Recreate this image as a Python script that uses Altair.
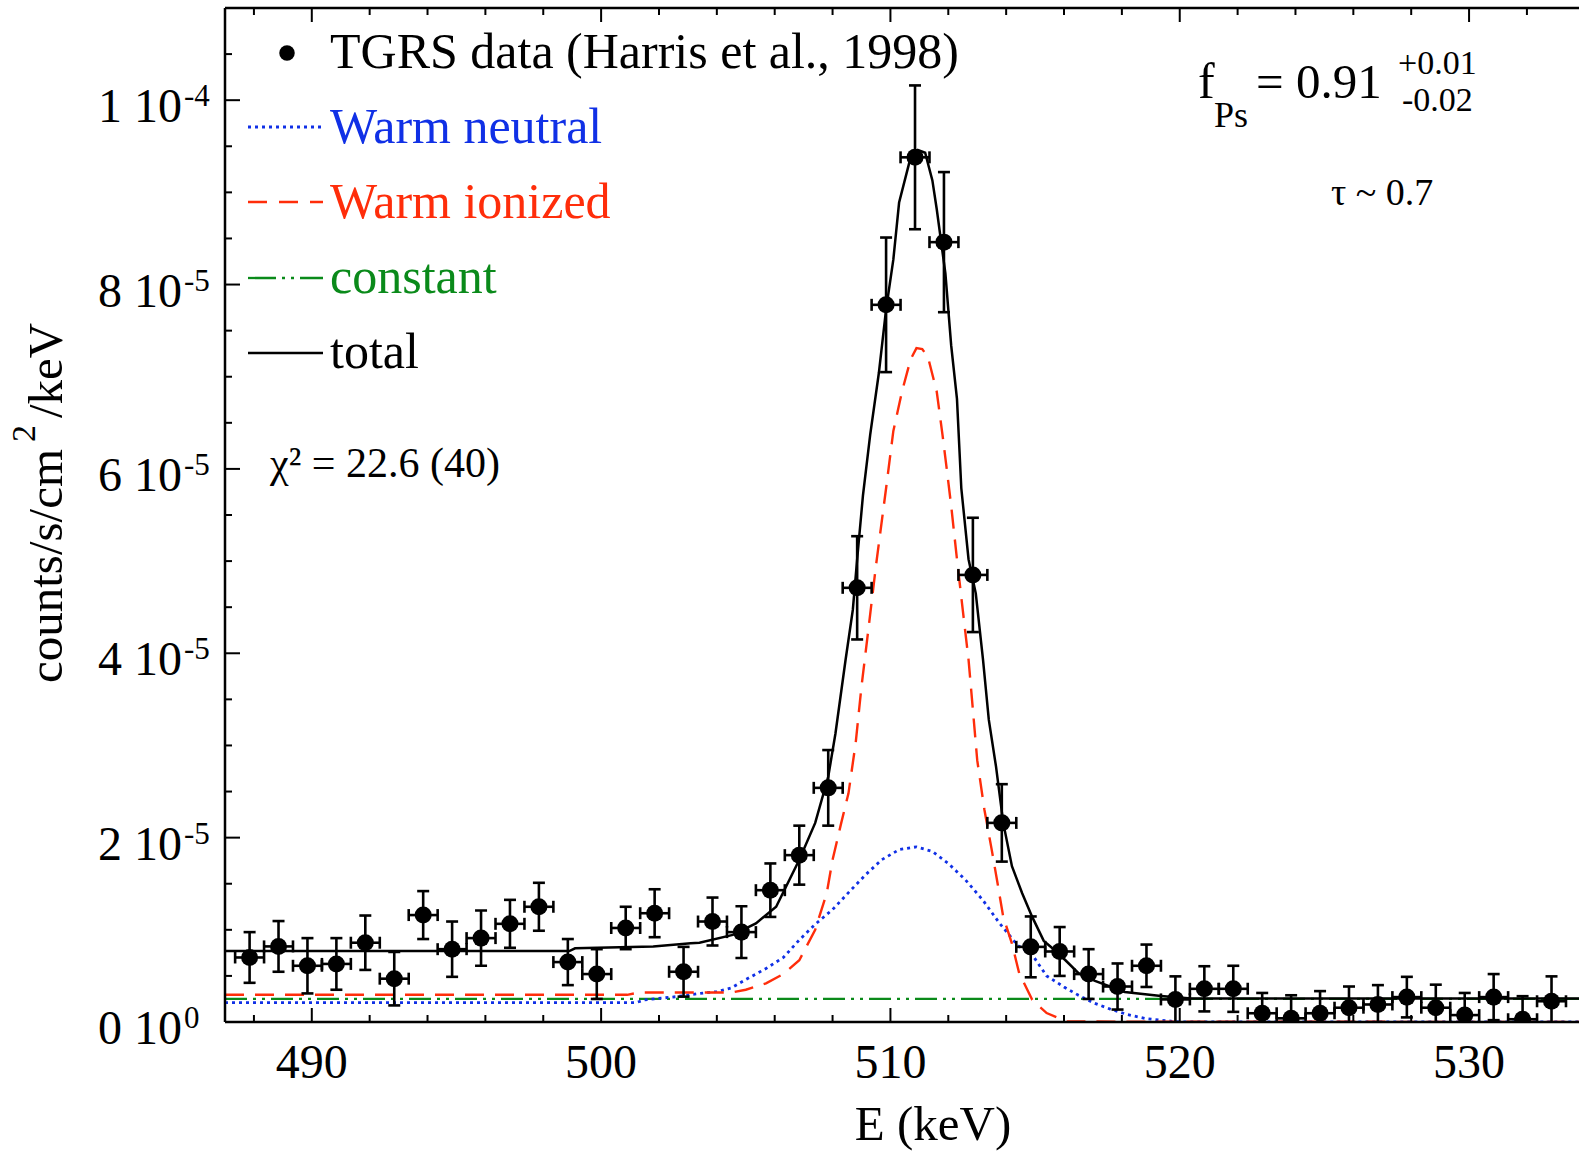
import altair as alt
import pandas as pd

FONT = "Liberation Serif"
BLUE = "#1030e6"
RED = "#ff2d0a"
GREEN = "#0a8a1a"

# ---- TGRS data points: energy (keV), flux and 1-sigma error (units of 1e-6 counts/s/cm2/keV)
E_data = [487.85, 488.85, 489.85, 490.85, 491.85, 492.85, 493.85, 494.85, 495.85, 496.85,
          497.85, 498.85, 499.85, 500.85, 501.85, 502.85, 503.85, 504.85, 505.85, 506.85,
          507.85, 508.85, 509.85, 510.85, 511.85, 512.85, 513.85, 514.85, 515.85, 516.85,
          517.85, 518.85, 519.85, 520.85, 521.85, 522.85, 523.85, 524.85, 525.85, 526.85,
          527.85, 528.85, 529.85, 530.85, 531.85, 532.85]
flux = [7.0, 8.2, 6.1, 6.3, 8.6, 4.7, 11.6, 7.9, 9.1, 10.65,
        12.5, 6.5, 5.2, 10.2, 11.8, 5.45, 10.9, 9.75, 14.3, 18.1,
        25.4, 47.1, 77.8, 93.8, 84.6, 48.5, 21.6, 8.15, 7.65, 5.2,
        3.85, 6.1, 2.45, 3.6, 3.6, 0.95, 0.4, 0.95, 1.55, 1.9,
        2.7, 1.55, 0.75, 2.7, 0.3, 2.25]
flux_err = [2.75, 2.75, 3.0, 2.8, 2.95, 2.9, 2.6, 3.0, 3.0, 2.6,
            2.6, 2.5, 2.7, 2.3, 2.6, 2.7, 2.6, 2.8, 2.9, 3.2,
            4.1, 5.6, 7.3, 7.8, 7.6, 6.2, 4.2, 3.3, 2.65, 2.7,
            2.5, 2.3, 2.5, 2.45, 2.5, 2.2, 2.5, 2.4, 2.3, 2.1,
            2.2, 2.5, 2.4, 2.5, 2.5, 2.7]
E_halfbin = 0.5

# ---- model components (units of 1e-6)
E_neutral = [487.0, 501.2, 501.5, 502.6, 503.4, 504.0, 504.5, 505.0, 505.7, 506.3, 506.85,
             507.4, 508.0, 508.6, 509.15, 509.7, 510.3, 510.9, 511.45, 512.0, 512.6, 513.2,
             513.75, 514.4, 514.9, 515.4, 516.0, 516.5, 517.0, 517.6, 518.2, 518.85, 519.5,
             520.0, 534.0]
neutral = [2.1, 2.1, 2.4, 2.75, 3.1, 3.3, 3.7, 4.6, 5.8, 7.0, 8.9,
           10.6, 12.2, 14.2, 16.0, 17.6, 18.7, 19.0, 18.5, 17.2, 15.4, 13.2,
           10.8, 8.3, 7.3, 5.0, 3.8, 2.9, 2.1, 1.4, 0.8, 0.36, 0.15,
           0.0, 0.0]

E_ionized = [487.0, 500.9, 501.3, 504.5, 505.0, 505.7, 506.3, 506.85, 507.4, 507.8, 508.0,
             508.3, 508.55, 508.8, 509.0, 509.25, 509.5, 509.85, 510.1, 510.4, 510.7, 510.9,
             511.1, 511.3, 511.6, 511.8, 511.95, 512.1, 512.3, 512.5, 512.7, 512.85, 513.0,
             513.25, 513.5, 513.7, 513.9, 514.2, 514.45, 514.9, 515.4, 516.1, 534.0]
ionized = [2.95, 2.95, 3.2, 3.2, 3.5, 4.2, 5.2, 6.7, 10.0, 14.0, 17.6,
           21.6, 24.8, 30.3, 36.4, 42.9, 49.5, 57.9, 64.1, 68.4, 71.9, 73.1,
           73.0, 72.1, 68.4, 63.7, 59.9, 56.0, 50.2, 44.7, 39.3, 33.9, 28.4,
           23.0, 18.7, 15.1, 11.4, 8.5, 5.3, 2.4, 0.97, 0.05, 0.0]

E_const = [487.0, 534.0]
const = [2.5, 2.5]

E_total = [487.0, 498.9, 499.1, 501.8, 503.1, 503.4, 504.55, 505.35, 506.05, 506.85, 507.4,
           507.85, 508.1, 508.45, 508.7, 508.85, 509.05, 509.3, 509.6, 509.85, 510.1, 510.3,
           510.65, 510.95, 511.2, 511.45, 511.6, 511.9, 512.1, 512.3, 512.45, 512.7, 512.95,
           513.2, 513.4, 513.65, 513.9, 514.2, 514.55, 514.9, 515.3, 515.6, 516.05, 516.5,
           517.07, 518.1, 519.35, 520.4, 534.0]
total = [7.7, 7.7, 8.0, 8.2, 8.55, 8.6, 9.45, 10.7, 12.5, 17.6, 21.6,
         26.6, 31.3, 39.3, 44.7, 50.2, 57.1, 63.7, 70.4, 77.3, 82.7, 88.9,
         93.2, 94.6, 94.3, 91.3, 88.2, 81.2, 73.4, 67.6, 57.9, 50.2, 46.5,
         39.3, 32.8, 27.7, 21.6, 16.9, 14.0, 11.4, 8.8, 8.0, 6.7, 5.3,
         4.46, 3.26, 2.83, 2.54, 2.54]

# ---- axes ticks / labels
x_major = [490, 500, 510, 520, 530]
x_major_labels = ["490", "500", "510", "520", "530"]
x_minor = [488, 492, 494, 496, 498, 502, 504, 506, 508, 512, 514, 516, 518, 522, 524, 526, 528, 532]
y_major = [0, 20, 40, 60, 80, 100]
y_minor = [5, 10, 15, 25, 30, 35, 45, 50, 55, 65, 70, 75, 85, 90, 95, 105]
y_mant = ["0 10", "2 10", "4 10", "6 10", "8 10", "1 10"]
y_exp = ["0", "-5", "-5", "-5", "-5", "-4"]

W, H = 1354, 1014
xs = alt.Scale(domain=[487, 533.8], nice=False, zero=False)
ys = alt.Scale(domain=[0, 110], nice=False, zero=False)


def X(f):
    return alt.X(f, type="quantitative", scale=xs, axis=None)


def Y(f):
    return alt.Y(f, type="quantitative", scale=ys, axis=None)


pts = pd.DataFrame({"E": E_data, "v": flux, "err": flux_err})
pts["lo"] = pts["v"] - pts["err"]
pts["hi"] = pts["v"] + pts["err"]
pts["xlo"] = pts["E"] - E_halfbin
pts["xhi"] = pts["E"] + E_halfbin

layers = []


def curve(E, v, color, dash, width):
    df = pd.DataFrame({"E": E, "v": v})
    kw = dict(color=color, strokeWidth=width, clip=True)
    if dash:
        kw["strokeDash"] = dash
    return alt.Chart(df).mark_line(**kw).encode(x=X("E"), y=Y("v"))


layers.append(curve(E_const, const, GREEN, [22, 6, 3, 6, 3, 6], 2.3))
layers.append(curve(E_neutral, neutral, BLUE, [3, 4], 2.8))
layers.append(curve(E_ionized, ionized, RED, [19, 11], 2.4))
layers.append(curve(E_total, total, "black", None, 2.5))

base = alt.Chart(pts)
layers.append(base.mark_rule(color="black", strokeWidth=2.6, clip=True).encode(x=X("E"), y=Y("lo"), y2="hi"))
layers.append(base.mark_rule(color="black", strokeWidth=2.6, clip=True).encode(x=X("xlo"), x2="xhi", y=Y("v")))
for f in ["lo", "hi"]:
    layers.append(base.mark_tick(color="black", orient="horizontal", size=12, thickness=2.6, opacity=1, clip=True)
                  .encode(x=X("E"), y=Y(f)))
for f in ["xlo", "xhi"]:
    layers.append(base.mark_tick(color="black", orient="vertical", size=12, thickness=2.6, opacity=1, clip=True)
                  .encode(x=X(f), y=Y("v")))
layers.append(base.mark_circle(color="black", size=290, opacity=1, clip=True).encode(x=X("E"), y=Y("v")))

# ---- frame (spines)
one = pd.DataFrame({"a": [0]})
layers.append(alt.Chart(one).mark_rule(color="black", strokeWidth=2.5).encode(
    x=alt.value(0), x2=alt.value(W), y=alt.value(H)))
layers.append(alt.Chart(one).mark_rule(color="black", strokeWidth=2.5).encode(
    x=alt.value(0), x2=alt.value(W), y=alt.value(0)))
layers.append(alt.Chart(one).mark_rule(color="black", strokeWidth=2.5).encode(
    x=alt.value(0), y=alt.value(0), y2=alt.value(H)))

# ---- inward ticks
xmaj = pd.DataFrame({"t": x_major, "lab": x_major_labels})
xmin_ = pd.DataFrame({"t": x_minor})
ymaj = pd.DataFrame({"t": y_major, "m": y_mant, "e": y_exp})
ymin_ = pd.DataFrame({"t": y_minor})
for df, ln in [(xmaj, 14), (xmin_, 7)]:
    layers.append(alt.Chart(df).mark_rule(color="black", strokeWidth=2).encode(
        x=X("t"), y=alt.value(H), y2=alt.value(H - ln)))
    layers.append(alt.Chart(df).mark_rule(color="black", strokeWidth=2).encode(
        x=X("t"), y=alt.value(0), y2=alt.value(ln)))
for df, ln in [(ymaj, 15), (ymin_, 7)]:
    layers.append(alt.Chart(df).mark_rule(color="black", strokeWidth=2).encode(
        y=Y("t"), x=alt.value(0), x2=alt.value(ln)))

# ---- tick labels
layers.append(alt.Chart(xmaj).mark_text(font=FONT, fontSize=48, align="center", baseline="alphabetic",
                                        color="black").encode(x=X("t"), y=alt.value(1070), text="lab:N"))
layers.append(alt.Chart(ymaj).mark_text(font=FONT, fontSize=48, align="right", baseline="alphabetic",
                                        dy=22, color="black").encode(y=Y("t"), x=alt.value(-43), text="m:N"))
layers.append(alt.Chart(ymaj).mark_text(font=FONT, fontSize=31, align="left", baseline="alphabetic",
                                        dy=6, color="black").encode(y=Y("t"), x=alt.value(-41), text="e:N"))


def label(txt, x, y, size, color="black", align="left", angle=None):
    kw = dict(font=FONT, fontSize=size, align=align, baseline="alphabetic", color=color)
    if angle is not None:
        kw["angle"] = angle
    return alt.Chart(pd.DataFrame({"s": [txt]})).mark_text(**kw).encode(
        x=alt.value(x), y=alt.value(y), text="s:N")


# axis titles
layers.append(label("E (keV)", 708, 1132, 49, align="center"))
layers.append(label("counts/s/cm", -163, 675, 49, angle=270))
layers.append(label("2", -190, 434, 34, angle=270))
layers.append(label("/keV", -163, 410, 49, angle=270))

# legend
layers.append(alt.Chart(one).mark_circle(color="black", size=240, opacity=1).encode(
    x=alt.value(62), y=alt.value(45)))
layers.append(label("TGRS data (Harris et al., 1998)", 105, 60, 50))
leg = [("Warm neutral", BLUE, [3, 4], 119, 135, 2.8),
       ("Warm ionized", RED, [19, 12], 194, 210, 2.4),
       ("constant", GREEN, [28, 6, 3, 6, 3, 6], 270, 285, 2.3),
       ("total", "black", None, 345, 360, 2.5)]
for txt, col, dash, ly, ty, sw in leg:
    kw = dict(color=col, strokeWidth=sw)
    if dash:
        kw["strokeDash"] = dash
    layers.append(alt.Chart(one).mark_rule(**kw).encode(
        x=alt.value(23), x2=alt.value(98), y=alt.value(ly)))
    layers.append(label(txt, 105, ty, 50, color=col))

# annotations
layers.append(label("χ² = 22.6 (40)", 45, 469, 42))
layers.append(label("f", 973, 90, 50))
layers.append(label("Ps", 989, 119, 36))
layers.append(label("= 0.91", 1031, 90, 49))
layers.append(label("+0.01", 1173, 66, 34))
layers.append(label("-0.02", 1177, 103, 34))
layers.append(label("τ ~ 0.7", 1106, 197, 38))

chart = alt.layer(*layers).properties(
    width=W, height=H,
    padding={"left": 225, "top": 8, "right": 0, "bottom": 129},
    autosize=alt.AutoSizeParams(type="none"),
    background="white",
).configure_view(stroke=None)

chart.save("out.html", embed_options={"renderer": "svg", "actions": False})
